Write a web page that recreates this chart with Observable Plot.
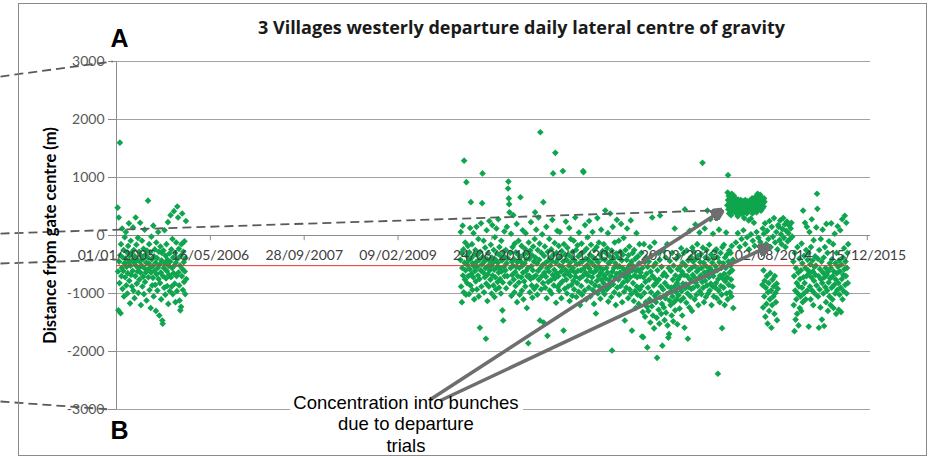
<!DOCTYPE html>
<html>
<head>
<meta charset="utf-8">
<script src="https://cdn.jsdelivr.net/npm/d3@7"></script>
<script src="https://cdn.jsdelivr.net/npm/@observablehq/plot@0.6"></script>
<style>
  body { margin: 0; background: #fff; }
  #wrap { position: relative; width: 929px; height: 456px; overflow: hidden; background: #fff; }
  #border { position: absolute; left: 18px; top: 3px; width: 907px; height: 451px; border: 1px solid #8a8a8a; pointer-events: none; z-index: 2; }
  #wrap svg { position: absolute; left: 0; top: 0; }
</style>
</head>
<body>
<div id="wrap"><div id="border"></div></div>
<script>
// ---------------- DATA ----------------
const title = "3 Villages westerly departure daily lateral centre of gravity";
const yLabel = "Distance from gate centre (m)";
const note = "Concentration into bunches\ndue to departure\ntrials";
const panelLetters = ["A", "B"];

// x tick labels (every 500 days from 01/01/2005)
const xTickLabels = ["01/01/2005", "16/05/2006", "28/09/2007", "09/02/2009", "24/06/2010",
  "06/11/2011", "20/03/2013", "02/08/2014", "15/12/2015"];
const yTicks = [-3000, -2000, -1000, 0, 1000, 2000, 3000];
const xDomain = ["2005-01-01", "2016-01-01"];

// daily lateral centre of gravity (m), sampled every `step` days, day 0 = 01/01/2005
const firstDay2005 = 6, step2005 = 2;
const values2005 = [
  480, -620, -1290, 310, -450, -820, 1600, -340, -1340, -150, -700, -560, 120, -920, -380, -610, -250, -1050, -480, -30,
  -720, -400, 60, -860, -540, -290, -1000, -650, -180, -460, 210, -780, -350, -1170, -520, -90, -680, -300, -880, -430,
  -610, 140, -950, -250, -470, -1080, -360, -700, 310, -520, -160, -830, -420, -620, -40, -990, -560, -280, -760, -450,
  220, -640, -1200, -350, -520, -90, -880, -410, -710, -230, -1010, -560, 100, -800, -330, -640, -470, -1120, -260, -590,
  -380, 600, -720, -480, -150, -940, -560, -290, -1250, -640, -20, -410, -860, -530, -730, 170, -1050, -360, -610, -240,
  -850, -470, -1300, -120, -670, -390, -950, -560, 60, -750, -280, -1380, -500, -820, -190, -640, -1100, -430, -300, -1465,
  -1520, -700, -260, -560, -900, 90, -480, -1020, -350, -740, -150, -610, -870, -420, 230, -1180, -520, -680, -310, -960,
  -450, 350, -720, -240, -880, -560, -60, -1010, -380, -650, 420, -520, -830, -300, -1150, -470, -120, -700, -960, 500,
  -400, 310, -640, -230, -860, -1120, -520, -1290, -350, -1230, -150, -700, 380, -580, -940, -280, -460, -800, -100, -620,
  -1010, -390, 250, -750
];

const firstDayMain = 1832, stepMain = 2;
const valuesMain = [
  -420, 60, -880, -300, -1150, -560, 170, -690, -240, -980, 1290, -470, -760, -120, -600, -1020, 920, -350, -820, -510,
  -180, -700, -430, -1010, -290, -580, 130, -860, 575, -390, -660, -150, -940, -480, -720, 40, -530, -1100, -330, -610,
  -250, -790, -460, 150, -930, -540, -330, -690, -60, -1050, -420, -750, -1590, -280, -600, 210, -880, -500, 557, 1070,
  -370, -640, -90, -980, -450, -720, -210, -560, -1780, -830, 90, -410, -1130, -670, -300, -520, -880, 250, -600, -440,
  -760, -160, -530, -1000, -380, 180, -690, -470, -860, -250, -590, -1060, -30, -720, -420, -930, 120, -550, -310, -800,
  -470, 280, -640, -900, -200, -560, -750, -350, -1000, -90, -620, -430, -1290, -810, -1465, -280, -540, 70, -700, -380,
  -600, -250, -910, -480, 150, -700, -390, 810, 930, 640, 540, 400, -820, -300, -560, 30, -1040, -450, -680, -200,
  -520, 350, -760, -410, -980, -140, -630, -870, -290, -540, 200, -1150, -460, -700, -330, -90, -810, -560, -1020, -380,
  660, -450, -720, -180, -950, -520, 90, -640, -1100, -330, -790, -480, -230, -880, 40, -610, -410, -1250, -700, -300,
  -560, -1857, -120, -690, -400, -980, -260, -750, 230, -530, -860, -340, -1070, -600, -190, -720, -450, -920, -60, 400,
  -380, -690, 100, -870, -480, -1020, -250, -610, 310, -760, -420, -140, -1465, 1780, -560, -930, -300, -700, 20, -510,
  -820, 575, -1500, -350, -640, -190, -900, -470, -710, 150, -1080, -560, -1730, -280, -800, -430, -620, -60, -950, -390,
  -520, -770, -240, -1000, -440, 270, -680, 1070, -330, -860, -590, -130, -740, 1425, -470, -1160, -300, -650, 80, -890,
  -410, -700, -180, -950, -520, 60, -830, -360, -620, -1080, -270, -540, -790, 1110, -450, -1640, -150, -680, -920, -330,
  -590, 240, -760, -420, -1000, -210, -650, -880, -330, -520, 130, -1130, -470, -700, -60, -600, -850, -380, -1040, -280,
  -560, -780, -90, -930, -430, -640, 310, -710, -250, -1060, -500, -820, -170, -610, -360, -970, 50, -480, -740, -1200,
  -320, -600, -870, -140, -1020, -450, -700, 1110, 1090, -280, -560, -950, 180, -640, -400, -1100, -230, -780, -510, -30,
  -690, -420, -900, 250, -570, -330, -1050, -620, -160, -810, -470, -720, 60, -940, -380, -640, -1180, -250, -530, -860,
  -410, -1345, -600, -200, -780, 300, -1000, -460, -700, -120, -880, -550, -330, -1090, -640, 100, -760, -400, -950, -270,
  -580, -820, -150, -690, -1010, -420, 430, -740, -300, -560, -930, -220, -640, 40, -1140, -480, -770, -350, -880, 380,
  -450, -700, -1060, -260, -1983, -620, 150, -840, -390, -560, -980, -120, -730, -480, -1200, -310, -660, 270, -900, -540,
  -380, -760, -90, -1020, -530, -640, -280, -870, 200, -690, -430, -1150, -560, -330, -810, -40, -970, -600, -1465, -720,
  -250, -690, -900, -420, 120, -780, -560, -1080, -340, -640, -190, -930, -500, -720, 260, -1010, -450, -1640, -600, -300,
  -820, -530, -1130, -250, -690, -960, -400, -1250, -610, 40, -880, -720, -1020, -360, -590, -1180, -480, -150, -930, -700,
  -640, -1050, -300, -870, -1741, -560, -1320, -1753, -720, -150, -990, -460, -1400, -800, -1150, -380, -660, -1230, -1930, -540,
  -900, -1300, -450, -760, -1100, -200, -1500, -620, -980, -350, -1220, 310, -700, -1380, -530, -860, -1600, -120, -1040, -750,
  -480, -1150, -820, -1420, -2109, -600, -990, -300, -1280, -760, -1520, -420, 345, -1070, -880, -1350, -540, -1180, -1900, -690,
  -930, -260, -1240, -650, -1460, -820, -1080, -380, -1330, -700, -1010, -150, -1550, -880, -1760, -560, -1700, -1120, -440, -970,
  -1200, -610, -900, -1380, -300, -1050, -760, -1480, -520, -1150, -880, 120, -1290, -690, -970, -400, -1100, -820, -1530, -580,
  -760, -1030, -350, -890, -1260, -540, -700, -1120, -220, -960, -620, -1380, -470, -830, -1080, -300, -680, -1590, 450, -910,
  -520, -840, -1160, -260, -700, -1000, -1780, -430, -890, -600, -1240, 80, -760, -1050, -370, -920, -560, -1300, -210, -680,
  -450, -900, -280, -720, -1100, -530, 190, -810, -400, -1020, -620, -150, -870, -350, -1200, -580, -730, 50, -960, -460,
  -690, -320, -1010, -560, -800, 1253, -210, -900, -470, -1150, -640, 120, -780, -380, -1060, -530, -250, -860, 430, -620,
  -1000, -410, -720, -160, -950, -560, 280, -830, -330, -1200, -610, -470, -880, 30, -700, -1050, -390, -620, -260, -900,
  -530, -820, -240, -1080, -600, -380, -2384, -750, -950, 100, -460, -1150, -690, -300, -870, -560, -1020, -1598, -200, -740,
  -480, -900, -160, -660, -1200, -380, -790, -560, 50, -1000, -330, -720, -1100, 1040, -450, -850, -260, -640, -980, -520,
  -300, -760, -1050, -180, -600, -880, -420, -1250
];

// departure-trial bunch (west-shifted)
const firstDayBunch = 3254, stepBunch = 2;
const valuesBunch = [
  520, 740, 610, 450, 680, 380, 560, 700, 470, 630, 350, 590, 720, 500, 420, 650, 540, 690, 460, 600,
  570, 420, 640, 510, 380, 600, 470, 550, 330, 620, 490, 560, 440, 580, 400, 530, 610, 460, 520, 370,
  540, 450, 590, 400, 520, 300, 560, 480, 610, 430, 500, 560, 380, 470, 590, 420, 510, 260, 550, 440,
  600, 480, 520, 290, 570, 450, 640, 380, 530, 610, 470, 220, 580, 500, 660, 430, 560, 620, 400, 690,
  520, 720, 600, 450, 680, 560, 640, 490, 700, 580, 430, 650, 540, 610, 470, 620, 560, 500, 640, 580
];

const firstDayNearZero = 3300, stepNearZero = 10;
const valuesNearZero = [-120, 40, -200, -60, 90, -150, -30, -240, 20, -90, -180, 60, -40, -110];

const firstDayColumn = 3441, stepColumn = 2;
const valuesColumn = [
  -850, 120, -1240, -600, 30, -1050, -780, 210, -1400, -900, -150, -1180, -700, 80, -1520, -980, -60, -820, -1300, 250,
  -1100, -650, -200, -950, -1590, 150, -1200, -760, -20, -1050, -880, 300, -1350, -700, -120, -990, -1150, 60, -830, -1460,
  -240, -920, 180
];

const firstDayTop = 3528, stepTop = 4;
const valuesTop = [150, -80, 260, 20, -150, 110, 300, -40, 190, -200, 80, 240, -100, 40, 170, -60, 120, 220, -20];

const firstDayRight = 3606, stepRight = 2;
const valuesRight = [
  -450, -1200, -700, -1650, -300, -950, -1450, -560, -1100, -820, -1350, -200, -1000, -640, -1550, -880, -400, -1250, -750, -1050,
  -600, -1300, -140, -900, -480, -1150, 430, -720, -1000, -350, -820, 220, -560, -1100, -250, -700, 150, -950, -420, -600,
  -300, -1570, -650, 60, -880, -500, -1100, -200, -720, 280, -950, -430, -620, -1200, -80, -780, -540, -1000, -360, -680,
  -520, 140, -860, 720, 460, -400, -1050, -700, -1590, -250, -930, -580, -1240, -60, -760, -450, -1450, -820, 100, -640,
  -1000, -380, -1560, -720, -200, -890, -560, -1150, 200, -680, -950, -300, -1300, -620, -810, -100, -1050, -480, -740, -1200,
  -560, 210, -900, -410, -1100, -700, -150, -1250, -620, -850, 30, -1000, -480, -760, -1350, -300, -650, -940, 160, -540,
  -820, -1280, -430, -1020, -620, 90, -900, -1320, -500, -750, 280, -1100, -380, -680, -960, -220, -580, 340, -850, -450,
  -700, 220, -1000, -560, -300, -820, -150
];

// red reference line (mean level), first and last day
const meanLine = [[0, -520], [3893, -520]];

// annotation leader lines [day, value]
const dashedLeaders = [
  [[-618, 2741], [-21, 3000]],
  [[-618, 34], [3174, 431]],
  [[-618, -483], [0, -414]],
  [[-618, -2862], [-32, -3000]]
];
const arrows = [
  [[1672, -2827], [3215, 410]],
  [[1726, -2845], [3464, -202]]
];
const noteAnchor = [1542, -3000];
const noteBox = {x1: 927, x2: 2168, y1: -2750, y2: -3150};

// ---------------- BUILD ----------------
const DAY = 864e5;
const ORIGIN = Date.UTC(2005, 0, 1);
const toDate = (d) => new Date(ORIGIN + d * DAY);
const seq = (first, step, vals) => vals.map((v, i) => ({date: toDate(first + i * step), value: v}));

const points = [
  ...seq(firstDay2005, step2005, values2005),
  ...seq(firstDayMain, stepMain, valuesMain),
  ...seq(firstDayBunch, stepBunch, valuesBunch),
  ...seq(firstDayNearZero, stepNearZero, valuesNearZero),
  ...seq(firstDayColumn, stepColumn, valuesColumn),
  ...seq(firstDayTop, stepTop, valuesTop),
  ...seq(firstDayRight, stepRight, valuesRight)
];
const pt = ([d, v]) => ({date: toDate(d), value: v});
const xTicks = xTickLabels.map((s) => { const [dd, mm, yy] = s.split("/").map(Number); return new Date(Date.UTC(yy, mm - 1, dd)); });
const xTickData = xTicks.map((d, i) => ({date: d, label: xTickLabels[i]}));

function filledHead(color) {
  const ns = "http://www.w3.org/2000/svg";
  const m = document.createElementNS(ns, "marker");
  m.setAttribute("viewBox", "-10 -5 10 10");
  m.setAttribute("markerWidth", "3.6");
  m.setAttribute("markerHeight", "3.6");
  m.setAttribute("refX", "-3");
  m.setAttribute("orient", "auto");
  const p = document.createElementNS(ns, "path");
  p.setAttribute("d", "M-10,-5L0,0L-10,5Z");
  p.setAttribute("fill", color);
  m.appendChild(p);
  return m;
}

function build(headMarker) {
  return Plot.plot({
    width: 929, height: 456,
    marginLeft: 116, marginRight: 59, marginTop: 61, marginBottom: 47,
    style: {background: "transparent", fontFamily: "Lato, sans-serif"},
    x: {type: "utc", domain: xDomain.map((s) => new Date(s)), axis: null},
    y: {domain: [yTicks[0], yTicks[yTicks.length - 1]], axis: null},
    marks: [
      Plot.ruleY(yTicks.filter((t) => t !== 0), {stroke: "#a3a3a3", strokeWidth: 1}),
      Plot.axisY({ticks: yTicks, tickFormat: (d) => String(d), tickSize: 8, tickPadding: 4, label: null, stroke: "#8c8c8c", fill: "#595959", fontSize: 14, fontFamily: "Lato"}),
      Plot.ruleX([xTicks[0]], {stroke: "#8c8c8c"}),
      Plot.ruleY([0], {stroke: "#8c8c8c"}),
      Plot.ruleX(xTicks, {y1: 0, y2: -90, stroke: "#8c8c8c"}),
      Plot.dot(points, {x: "date", y: "value", symbol: "diamond2", r: 3.0, fill: "#0fa54e", stroke: "none"}),
      Plot.line(meanLine.map(pt), {x: "date", y: "value", stroke: "#e0352f", strokeWidth: 1}),
      Plot.text(xTickData, {x: "date", y: 0, dy: 20, text: "label", fontSize: 14, fill: "#404040", fontFamily: "Lato"}),
      ...dashedLeaders.map((seg) => Plot.line(seg.map(pt), {x: "date", y: "value", stroke: "#5a5a5a", strokeWidth: 1.8, strokeDasharray: "9,5", strokeLinecap: "butt"})),
      Plot.rect([noteBox], {x1: (d) => toDate(d.x1), x2: (d) => toDate(d.x2), y1: "y1", y2: "y2", fill: "white"}),
      ...arrows.map((seg) => Plot.line(seg.map(pt), {x: "date", y: "value", stroke: "#6e6e6e", strokeWidth: 3.5, strokeLinecap: "butt", markerEnd: headMarker})),
      Plot.text([note], {x: () => toDate(noteAnchor[0]), y: () => noteAnchor[1], dy: 14, lineAnchor: "middle", lineHeight: 1.17, fontSize: 18.5, fontFamily: "Liberation Sans, Arial, sans-serif", fill: "#000"}),
      Plot.text([title], {frameAnchor: "top", lineAnchor: "middle", dx: 28, dy: -33, fontSize: 18, fontWeight: "bold", fontFamily: "Open Sans", fill: "#1a1a1a"}),
      Plot.text([panelLetters[0]], {frameAnchor: "top-left", lineAnchor: "middle", dx: -6, dy: -23, textAnchor: "start", fontSize: 25, fontWeight: "bold", fontFamily: "Liberation Sans, Arial, sans-serif", fill: "#000"}),
      Plot.text([panelLetters[1]], {frameAnchor: "bottom-left", lineAnchor: "middle", dx: -6, dy: 21, textAnchor: "start", fontSize: 25, fontWeight: "bold", fontFamily: "Liberation Sans, Arial, sans-serif", fill: "#000"}),
      Plot.text([yLabel], {frameAnchor: "left", textAnchor: "middle", lineAnchor: "middle", dx: -66, rotate: -90, fontSize: 16.5, fontWeight: "bold", fontFamily: "Lato", fill: "#000"})
    ]
  });
}

let chart;
try { chart = build(filledHead); } catch (e) { chart = build("arrow"); }
document.getElementById("wrap").appendChild(chart);
</script>
</body>
</html>
